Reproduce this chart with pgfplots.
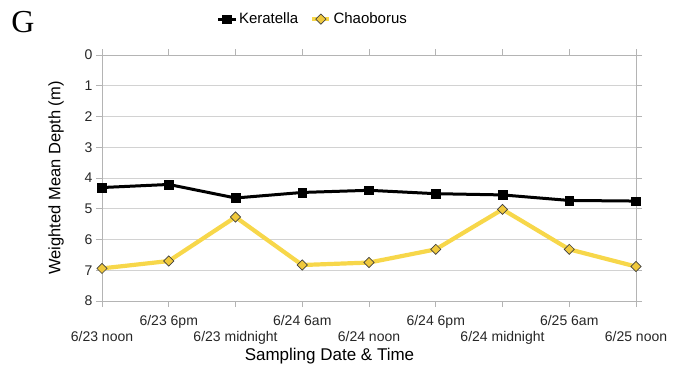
\documentclass[border=0pt]{standalone}
\usepackage{fontspec}
\setmainfont{Liberation Sans}
\newfontfamily\serifG{Liberation Serif}
\usepackage{pgfplots}
\pgfplotsset{compat=1.18}

\definecolor{gridgray}{HTML}{D2D2D2}
\definecolor{axisgray}{HTML}{B4B4B4}
\definecolor{chaoline}{HTML}{F7D74A}
\definecolor{chaofill}{HTML}{F0C93C}

\begin{document}
\begin{tikzpicture}
\path[use as bounding box] (-102pt,-68pt) rectangle (577pt,301pt);
\begin{axis}[
  at={(0,0)}, anchor=south west,
  scale only axis,
  width=534pt, height=246pt,
  xmin=0, xmax=8,
  ymin=0, ymax=8, y dir=reverse,
  ytick={0,1,...,8},
  ymajorgrids, major grid style={gridgray, line width=0.8pt},
  axis line style={axisgray, line width=0.8pt},
  tick style={axisgray, line width=0.8pt},
  tick align=outside,
  major tick length=6pt,
  xtick={1,3,5,7},
  xticklabels={{6/23 6pm},{6/24 6am},{6/24 6pm},{6/25 6am}},
  extra x ticks={0,2,4,6,8},
  extra x tick labels={{6/23 noon},{6/23 midnight},{6/24 noon},{6/24 midnight},{6/25 noon}},
  extra x tick style={grid=none, xticklabel style={yshift=-16pt}},
  xticklabel style={font=\fontsize{14}{16}\selectfont, text=black!85, yshift=-5pt},
  yticklabel style={font=\fontsize{14}{16}\selectfont, text=black!85},
  /pgf/number format/assume math mode=true,
  ylabel={Weighted Mean Depth (m)},
  ylabel style={font=\fontsize{16.5}{18}\selectfont, at={(ticklabel cs:0.5)}, yshift=14pt},
  xlabel={Sampling Date \& Time},
  xlabel style={font=\fontsize{17}{19}\selectfont, at={(rel axis cs:0.426,0)}, anchor=center, yshift=-55pt},
  legend style={draw=none, fill=none, font=\fontsize{15}{17}\selectfont,
    at={(0.395,1.146)}, anchor=center, legend columns=2,
    /tikz/every even column/.append style={column sep=10pt}},
  legend image post style={sharp plot},
]
\addplot[black, line width=3pt, mark=square*, mark size=4.3pt,
  mark options={fill=black, line width=0.5pt}]
  coordinates {(0,4.31) (1,4.21) (2,4.65) (3,4.47) (4,4.40) (5,4.51) (6,4.55) (7,4.73) (8,4.75)};
\addlegendentry{Keratella}
\addplot[chaoline, line width=4.2pt, mark=square*, mark size=3.6pt,
  mark options={fill=chaofill, draw=black!75, line width=0.7pt, rotate=45}]
  coordinates {(0,6.94) (1,6.70) (2,5.27) (3,6.83) (4,6.75) (5,6.32) (6,5.02) (7,6.32) (8,6.88)};
\addlegendentry{Chaoborus}
\end{axis}
\node[font=\serifG\fontsize{32}{34}\selectfont, anchor=center] at (-79pt,279pt) {G};
\end{tikzpicture}
\end{document}
